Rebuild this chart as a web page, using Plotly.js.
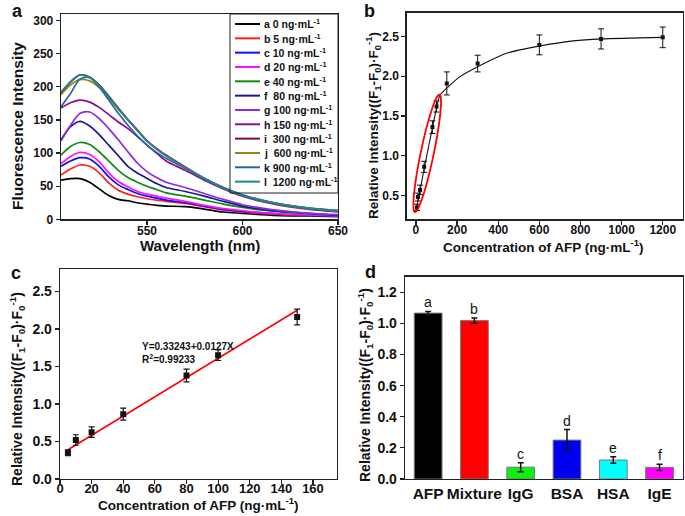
<!DOCTYPE html>
<html><head><meta charset="utf-8">
<script src="https://cdn.plot.ly/plotly-3.0.1.min.js"></script>
<style>html,body{margin:0;padding:0;background:#fff}#chart{width:685px;height:516px}</style>
</head><body><div id="chart"></div>
<script>
// ---------- Panel a: fluorescence spectra ----------
const wavelength = [505,510,515,520,525,530,535,540,545,550,555,560,570,580,590,600,610,620,635,650];
const spec0    = [59,61.5,61.5,56,46,36,30,28,25,23,21,20,19,15.5,11,9,7,5.5,5,4];
const spec5    = [67,76,82,80,70,55,44,38,34,31,29,27,24,19,14,11,9,7,6,5];
const spec10   = [80,88,93,91,80,64,52,45,39,35,32,29,25,20,15,12,10,8,6,5];
const spec20   = [84,95,101,98,87,70,57,49,42,38,35,32,27,21,16,13,10,8,6.5,5];
const spec40   = [97,110,116,113,102,88,74,63,56,50,45,40,35,29,23,18,14,11,8,6];
const spec80   = [120,140,148,141,128,112,96,80,70,62,54,48,42,35,27,20,15,12,9,6];
const spec100  = [118,142,160,162,152,137,120,102,85,72,63,56,48,39,30,22,17,13,9,7];
const spec150  = [168,176,180,177,169,158,147,137,125,112,100,88,74,59,46,35,27,21,15,11];
const spec300  = [190,207,218,215,203,186,168,151,135,119,107,97,79,62,48,37,29,23,17,13];
const spec600  = [188,203,211,209,199,183,166,150,134,118,106,96,78,62,47,36,28,22,16,12];
const spec900  = [170,190,212,214,200,180,160,142,126,112,101,92,77,61,47,36,28,22,16,12];
const spec1200 = [192,208,218,214,202,185,167,150,134,118,106,96,78,62,48,37,29,23,17,13];
const spectra = [spec0,spec5,spec10,spec20,spec40,spec80,spec100,spec150,spec300,spec600,spec900,spec1200];
const specLabels = ['a 0 ng·mL<sup>-1</sup>','b 5 ng·mL<sup>-1</sup>','c 10 ng·mL<sup>-1</sup>','d 20 ng·mL<sup>-1</sup>',
  'e 40 ng·mL<sup>-1</sup>','f  80 ng·mL<sup>-1</sup>','g 100 ng·mL<sup>-1</sup>','h 150 ng·mL<sup>-1</sup>',
  'i  300 ng·mL<sup>-1</sup>','j  600 ng·mL<sup>-1</sup>','k 900 ng·mL<sup>-1</sup>','l  1200 ng·mL<sup>-1</sup>'];
const specColors = ['#000000','#ff2020','#0a10ff','#ff10ff','#108a10','#1a1a8c','#8a2be2','#8b108b','#8b0a2a','#8a8a10','#2a62b0','#1a8a8a'];
const aTicksY = [0,50,100,150,200,250,300];
const aTicksX = [550,600,650];

// ---------- Panel b: calibration over full range ----------
const concB = [5,10,20,40,80,100,150,300,600,900,1200];
const intB  = [0.35,0.48,0.57,0.86,1.36,1.62,1.91,2.16,2.395,2.47,2.49];
const errB  = [0.04,0.05,0.06,0.07,0.08,0.07,0.145,0.105,0.125,0.127,0.13];
const fitBx = [5,20,40,80,100,117,150,214,300,441,600,765,900,1200];
const fitBy = [0.37,0.56,0.84,1.35,1.6,1.765,1.85,1.995,2.12,2.29,2.38,2.445,2.47,2.49];

// ---------- Panel c: linear range ----------
const concC = [5,10,20,40,80,100,150];
const intC  = [0.35,0.52,0.625,0.865,1.38,1.65,2.16];
const errC  = [0.04,0.07,0.07,0.08,0.085,0.07,0.105];
const fitCx = [5,150];
const fitCy = [0.39,2.25];
const eqText = 'Y=0.33243+0.0127X';
const r2Text = 'R<sup>2</sup>=0.99233';

// ---------- Panel d: selectivity ----------
const proteins = ['AFP','Mixture','IgG','BSA','HSA','IgE'];
const respD    = [1.066,1.018,0.076,0.25,0.122,0.075];
const errD     = [0.011,0.017,0.029,0.068,0.021,0.02];
const lettersD = ['a','b','c','d','e','f'];
const colorsD  = ['#000000','#ff0000','#11ee11','#0000ee','#00ffff','#ff00ff'];

const W = 685, H = 516;
const F = 'Liberation Sans, Arial, Helvetica, sans-serif';
const box = {
  a:{x:[61,338], y:[14,219.3]},
  b:{x:[406.7,682.7], y:[12.7,219.3]},
  c:{x:[60,336.7], y:[269,479]},
  d:{x:[405,682.7], y:[276.7,479]}
};
const xd = p => [p.x[0]/W, p.x[1]/W];
const yd = p => [1-p.y[1]/H, 1-p.y[0]/H];
const tf = (s) => ({family:F, size:s, color:'#111', weight:'bold'});
function ax(extra){
  return Object.assign({showline:true, mirror:true, linecolor:'#222', linewidth:1.3, ticks:'outside',
    ticklen:4, tickwidth:1.2, tickcolor:'#222', showgrid:false, zeroline:false, tickfont:tf(12)}, extra);
}
const yTitle = 'Relative Intensity((F<sub>1</sub>-F<sub>0</sub>)·F<sub>0</sub><sup>-1</sup>)';
const xTitleConc = 'Concentration of AFP (ng·mL<sup>-1</sup>)';

const traces = [];
spectra.forEach((s,i)=>traces.push({x:wavelength, y:s, xaxis:'x', yaxis:'y', mode:'lines', name:specLabels[i],
  showlegend:false, line:{color:specColors[i], width:1.7, shape:'spline', smoothing:0.8}, hoverinfo:'skip'}));

traces.push({x:fitBx, y:fitBy, xaxis:'x2', yaxis:'y2', mode:'lines', showlegend:false,
  line:{color:'#111', width:1.1, shape:'spline', smoothing:0.7}});
traces.push({x:concB, y:intB, xaxis:'x2', yaxis:'y2', mode:'markers', showlegend:false,
  marker:{symbol:'square', size:4, color:'#111'},
  error_y:{type:'data', array:errB, color:'#111', thickness:1, width:3}});

traces.push({x:fitCx, y:fitCy, xaxis:'x3', yaxis:'y3', mode:'lines', showlegend:false,
  line:{color:'#ff0000', width:1.6}});
traces.push({x:concC, y:intC, xaxis:'x3', yaxis:'y3', mode:'markers', showlegend:false,
  marker:{symbol:'square', size:6, color:'#111'},
  error_y:{type:'data', array:errC, color:'#111', thickness:1.2, width:3}});

traces.push({type:'bar', x:proteins, y:respD, xaxis:'x4', yaxis:'y4', showlegend:false,
  marker:{color:colorsD, line:{color:'#7a7a7a', width:1}},
  error_y:{type:'data', array:errD, color:'#111', thickness:1.5, width:3}});

const shapes = [], annotations = [];
// manual legend for panel a
const lg = {x0:230, x1:338, y0:14, y1:193, top:24, step:14.33};
shapes.push({type:'rect', xref:'paper', yref:'paper', x0:lg.x0/W, x1:lg.x1/W, y0:1-lg.y1/H, y1:1-lg.y0/H,
  line:{color:'#222', width:1}, fillcolor:'rgba(0,0,0,0)', layer:'above'});
specLabels.forEach((t,i)=>{
  const yy = 1-(lg.top+i*lg.step)/H;
  shapes.push({type:'line', xref:'paper', yref:'paper', x0:235/W, x1:260/W, y0:yy, y1:yy,
    line:{color:specColors[i], width:2}});
  annotations.push({xref:'paper', yref:'paper', x:262/W, y:yy, xanchor:'left', yanchor:'middle',
    text:t, showarrow:false, font:tf(10.5)});
});

// red ellipse in panel b (pixel geometry converted to data coords)
(function(){
  const r = {x:[-45,1297], y:[0.2,2.8]};
  const toX = p => r.x[0] + (p-box.b.x[0])/(box.b.x[1]-box.b.x[0])*(r.x[1]-r.x[0]);
  const toY = p => r.y[1] - (p-box.b.y[0])/(box.b.y[1]-box.b.y[0])*(r.y[1]-r.y[0]);
  const cx=427.2, cy=153.4, A=60, B=6.5, ang=11.8*Math.PI/180;
  let d='';
  for(let k=0;k<=72;k++){
    const t=k/72*2*Math.PI;
    const u=B*Math.cos(t), v=A*Math.sin(t);
    const px = cx + u*Math.cos(ang) - v*Math.sin(ang);
    const py = cy + u*Math.sin(ang) + v*Math.cos(ang);
    d += (k?'L':'M') + toX(px).toFixed(3) + ',' + toY(py).toFixed(4);
  }
  shapes.push({type:'path', xref:'x2', yref:'y2', path:d+'Z', line:{color:'#ff0000', width:1.8}});
})();

annotations.push({xref:'x3', yref:'y3', x:50.6, y:1.77, xanchor:'left', yanchor:'middle', text:eqText, showarrow:false, font:tf(10)});
annotations.push({xref:'x3', yref:'y3', x:50.6, y:1.6, xanchor:'left', yanchor:'middle', text:r2Text, showarrow:false, font:tf(10)});
proteins.forEach((p,i)=>annotations.push({xref:'x4', yref:'y4', x:p, y:respD[i]+errD[i], yanchor:'bottom',
  text:lettersD[i], showarrow:false, font:{family:F, size:14, color:'#111'}, yshift:-1}));
// panel letters
[['a',17,0],['b',369,0],['c',16,262],['d',370,261]].forEach(l=>annotations.push({xref:'paper', yref:'paper',
  x:l[1]/W, y:1-l[2]/H, xanchor:'center', yanchor:'top', text:l[0], showarrow:false, font:tf(18), borderpad:0}));
// axis titles (placed as in the reference)
const axisTitles = [
  {text:'Wavelength (nm)', x:199.5, y:246, size:15, rot:0},
  {text:'Fluorescence Intensity', x:17, y:126, size:15.5, rot:-90},
  {text:xTitleConc, x:543, y:246, size:13.5, rot:0},
  {text:yTitle, x:373, y:126, size:13.5, rot:-90},
  {text:xTitleConc, x:198, y:504, size:13.5, rot:0},
  {text:yTitle, x:17, y:389, size:14, rot:-90},
  {text:yTitle, x:365, y:385, size:14, rot:-90}
];
axisTitles.forEach(t=>annotations.push({xref:'paper', yref:'paper', x:t.x/W, y:1-t.y/H, xanchor:'center', yanchor:'middle',
  text:t.text, textangle:t.rot, showarrow:false, font:tf(t.size), borderpad:0}));

const layout = {
  width:W, height:H, margin:{l:0,r:0,t:0,b:0}, paper_bgcolor:'#fff', plot_bgcolor:'#fff',
  font:{family:F, color:'#111'}, showlegend:false, bargap:0.4,
  xaxis: ax({domain:xd(box.a), anchor:'y', range:[505,650], tickvals:aTicksX, ticklabelstandoff:-4}),
  yaxis: ax({domain:yd(box.a), anchor:'x', range:[0,310], tickvals:aTicksY}),
  xaxis2: ax({domain:xd(box.b), anchor:'y2', range:[-45,1297], tickvals:[0,200,400,600,800,1000,1200], ticklabelstandoff:-5}),
  yaxis2: ax({domain:yd(box.b), anchor:'x2', range:[0.2,2.8], tickvals:[0.5,1.0,1.5,2.0,2.5], tickformat:'.1f'}),
  xaxis3: ax({domain:xd(box.c), anchor:'y3', range:[0,175], tickvals:[0,20,40,60,80,100,120,140,160], tickfont:tf(13), ticklabelstandoff:-7}),
  yaxis3: ax({domain:yd(box.c), anchor:'x3', range:[0,2.8], tickvals:[0,0.5,1.0,1.5,2.0,2.5], tickformat:'.1f', tickfont:tf(14)}),
  xaxis4: ax({domain:xd(box.d), anchor:'y4', type:'category', range:[-0.5,5.5], ticks:'', tickfont:tf(15.5)}),
  yaxis4: ax({domain:yd(box.d), anchor:'x4', range:[0,1.3], tickvals:[0,0.2,0.4,0.6,0.8,1.0,1.2], tickformat:'.1f', tickfont:tf(14)}),
  shapes, annotations
};
Plotly.newPlot('chart', traces, layout, {displayModeBar:false, staticPlot:true});
</script></body></html>
